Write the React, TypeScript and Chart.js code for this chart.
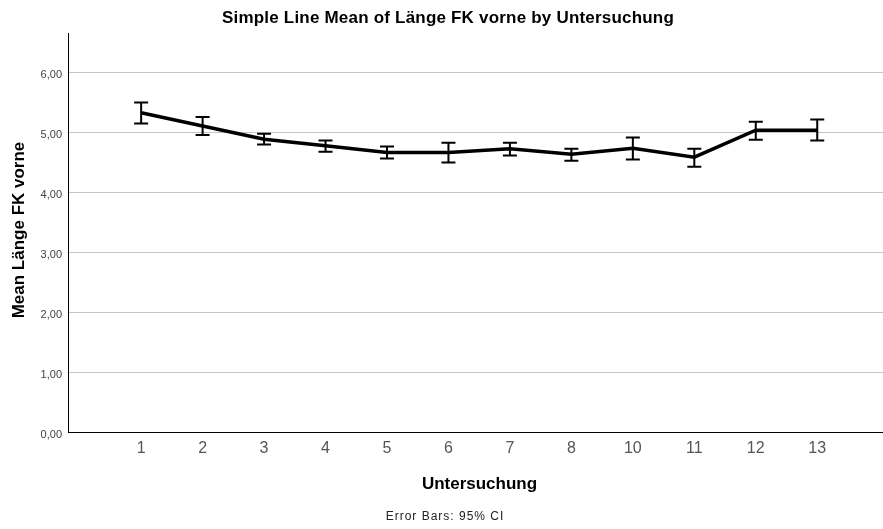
import React, { useEffect, useRef } from "react";
import { Chart, registerables } from "chart.js";

Chart.register(...registerables);

const categories = ["1", "2", "3", "4", "5", "6", "7", "8", "10", "11", "12", "13"];
const means = [5.32, 5.10, 4.88, 4.77, 4.66, 4.66, 4.72, 4.63, 4.73, 4.58, 5.03, 5.03];
const upper = [5.49, 5.25, 4.97, 4.86, 4.76, 4.82, 4.82, 4.72, 4.91, 4.72, 5.17, 5.21];
const lower = [5.14, 4.95, 4.79, 4.67, 4.56, 4.49, 4.61, 4.52, 4.54, 4.42, 4.87, 4.86];
const yTicks = [0, 1, 2, 3, 4, 5, 6];

const titleText = "Simple Line Mean of Länge FK vorne by Untersuchung";
const yTitle = "Mean Länge FK vorne";
const xTitle = "Untersuchung";
const footText = "Error Bars: 95% CI";

const FONT = "'Liberation Sans', Arial, sans-serif";

const errorBarPlugin = {
  id: "errorBars",
  afterDatasetsDraw(chart: any) {
    const { ctx, scales } = chart;
    const xs = scales.x;
    const ys = scales.y;
    ctx.save();
    ctx.strokeStyle = "#000";
    ctx.lineWidth = 2;
    for (let i = 0; i < means.length; i++) {
      const x = xs.getPixelForValue(i);
      const yt = ys.getPixelForValue(upper[i]);
      const yb = ys.getPixelForValue(lower[i]);
      ctx.beginPath();
      ctx.moveTo(x, yt);
      ctx.lineTo(x, yb);
      ctx.moveTo(x - 7, yt);
      ctx.lineTo(x + 7, yt);
      ctx.moveTo(x - 7, yb);
      ctx.lineTo(x + 7, yb);
      ctx.stroke();
    }
    ctx.restore();
  },
};

const textPlugin = {
  id: "texts",
  afterDraw(chart: any) {
    const { ctx, chartArea } = chart;
    ctx.save();
    ctx.fillStyle = "#000";
    ctx.textAlign = "center";
    ctx.textBaseline = "middle";
    ctx.font = `bold 17px ${FONT}`;
    (ctx as any).letterSpacing = "0.2px";
    ctx.fillText(titleText, 448, 18);
    (ctx as any).letterSpacing = "0px";
    ctx.font = `bold 17px ${FONT}`;
    ctx.fillText(xTitle, (chartArea.left + chartArea.right) / 2 + 4, 484);
    ctx.font = `12px ${FONT}`;
    (ctx as any).letterSpacing = "1px";
    ctx.fillStyle = "#222";
    ctx.fillText(footText, 445, 517);
    (ctx as any).letterSpacing = "0px";
    ctx.fillStyle = "#000";
    ctx.translate(19, 230);
    ctx.rotate(-Math.PI / 2);
    ctx.font = `bold 17px ${FONT}`;
    ctx.fillText(yTitle, 0, 0);
    ctx.restore();
  },
};

export default function App() {
  const ref = useRef<HTMLCanvasElement | null>(null);
  useEffect(() => {
    if (!ref.current) return;
    const chart = new Chart(ref.current, {
      type: "line",
      data: {
        datasets: [
          {
            data: means.map((v, i) => ({ x: i, y: v })),
            borderColor: "#000",
            borderWidth: 3.5,
            pointRadius: 0,
            tension: 0,
            fill: false,
          },
        ],
      },
      options: {
        responsive: false,
        animation: false,
        layout: { padding: { top: 33, left: 0, right: 0, bottom: 0 } },
        plugins: {
          legend: { display: false },
          tooltip: { enabled: false },
          title: { display: false },
        },
        scales: {
          x: {
            type: "linear",
            min: -1.19,
            max: 12.07,
            afterBuildTicks: (s: any) => {
              s.ticks = categories.map((_, i) => ({ value: i }));
            },
            afterFit: (s: any) => {
              s.height = 97;
            },
            ticks: {
              autoSkip: false,
              maxRotation: 0,
              padding: 7,
              color: "#555",
              font: { family: FONT, size: 16 },
              callback: (v: any) => categories[Math.round(Number(v))] ?? "",
            },
            grid: { display: false, drawTicks: false },
            border: { display: true, color: "#000", width: 1 },
          },
          y: {
            min: 0,
            max: 6.65,
            afterBuildTicks: (s: any) => {
              s.ticks = yTicks.map((v) => ({ value: v }));
            },
            afterFit: (s: any) => {
              s.width = 68;
            },
            ticks: {
              padding: 6,
              labelOffset: 3,
              color: "#444",
              font: { family: FONT, size: 11 },
              callback: (v: any) => Number(v).toFixed(2).replace(".", ","),
            },
            grid: {
              drawTicks: false,
              color: (c: any) => (c.tick && c.tick.value === 0 ? "rgba(0,0,0,0)" : "#c4c4c4"),
              lineWidth: 1,
            },
            border: { display: true, color: "#000", width: 1 },
          },
        },
      },
      plugins: [errorBarPlugin, textPlugin],
    });
    return () => chart.destroy();
  }, []);
  return (
    <div style={{ position: "absolute", left: 0, top: 0, width: 883, height: 529, background: "#fff" }}>
      <canvas ref={ref} width={883} height={529} />
    </div>
  );
}
